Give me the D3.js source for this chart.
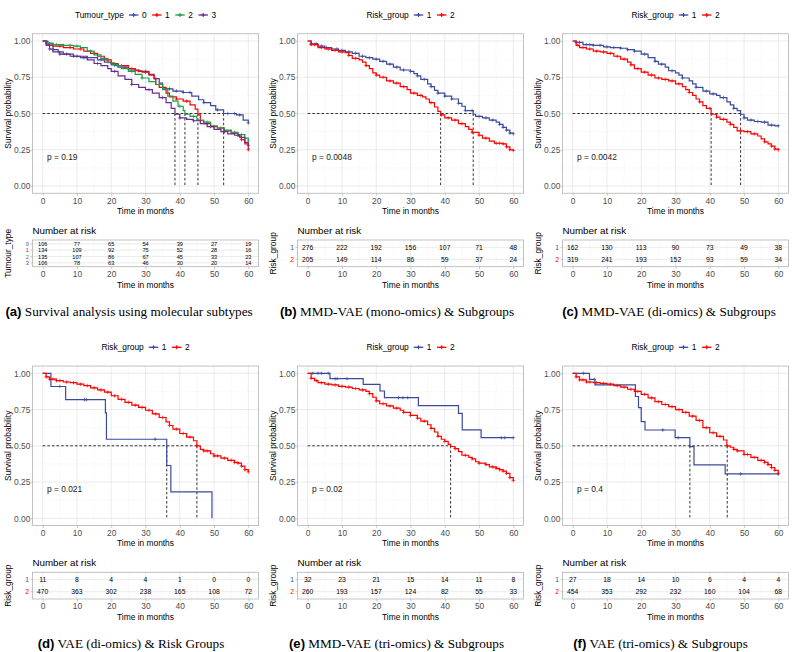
<!DOCTYPE html>
<html><head><meta charset="utf-8">
<script src="https://cdn.jsdelivr.net/npm/d3@7"></script>
<style>body{margin:0;background:#fff}svg{display:block}text{font-family:"Liberation Sans",Arial,sans-serif}</style>
</head><body><svg id="c" width="794" height="652"></svg>
<script>
// ---------- DATA ----------
const months = [0,10,20,30,40,50,60];
const survTicks = [0,0.25,0.5,0.75,1];

// (a) Tumour_type
const a_groups = ["0","1","2","3"];
const a0_t = [0,1.5,3,4.5,6,9,13,16,18,20,22,25,28,31,32.5,34,35,38,41,43.5,45.5,47,49,50.5,52.8,56.5,58.5,60];
const a0_s = [1.0,0.97,0.94,0.925,0.91,0.895,0.885,0.87,0.855,0.835,0.82,0.80,0.79,0.765,0.74,0.71,0.67,0.655,0.645,0.62,0.595,0.575,0.555,0.525,0.50,0.49,0.455,0.435];
const a0_cens = [3,7,10,13,17,21,24,27,30,33,37,39,41,43,47,51,54,56,57.5,60];
const a1_t = [0,1,3,6,9,12,14,16,18,20,22,25,27,29,31,32.5,33,34,36,37,39,41,43,44.5,45.3,46,47,49,51,53,55,57,58,59,60];
const a1_s = [1.0,0.98,0.965,0.955,0.945,0.93,0.915,0.895,0.87,0.845,0.83,0.81,0.795,0.785,0.77,0.74,0.70,0.68,0.64,0.615,0.60,0.585,0.56,0.53,0.49,0.45,0.43,0.41,0.40,0.38,0.365,0.345,0.32,0.29,0.25];
const a1_cens = [2,5,8,11,15,19,23,26,28,30,35,39,42,48,50,53,56,58,60];
const a2_t = [0,1,3,6,9,11,13,15,17,19,21,23,25,27,29,31,33,35,36.5,38,39.5,41,41.5,43,45,47,49,51,53,55,57,59,60];
const a2_s = [1.0,0.985,0.975,0.97,0.965,0.955,0.93,0.905,0.88,0.85,0.83,0.81,0.79,0.77,0.745,0.72,0.70,0.665,0.62,0.585,0.55,0.52,0.495,0.48,0.455,0.44,0.415,0.40,0.385,0.37,0.355,0.33,0.31];
const a2_cens = [1.5,4,6,8,10,14,18,22,26,29,34,40,44,48,52,56,58,60];
const a3_t = [0,1,2,3,5,8,11,13,15,17,19,20,22,24,26,28,30,32,34,36,37.5,38.6,40,42,44,46,48,50,52,54,56,57.5,59,60];
const a3_s = [1.0,0.97,0.945,0.925,0.91,0.895,0.885,0.87,0.845,0.83,0.81,0.79,0.76,0.735,0.70,0.68,0.665,0.64,0.61,0.575,0.535,0.495,0.47,0.46,0.45,0.43,0.41,0.39,0.375,0.36,0.35,0.335,0.30,0.28];
const a3_cens = [2,5,9,12,16,21,26,31,35,40,44,49,53,57,60];
const a_risk0 = [106,77,65,54,39,27,19];
const a_risk1 = [134,109,92,75,52,28,16];
const a_risk2 = [135,107,86,67,45,33,23];
const a_risk3 = [106,78,63,46,30,20,14];
const a_medians = [38.6,41.5,45.3,52.8];
const a_pval = "p = 0.19";

// (b) MMD-VAE mono-omics
const rg_groups = ["1","2"];
const b1_t = [0,1,3,5,7,9,11,13,15,17,19,21,23,25,27,30,31,32,33,35,36,37,38,40,42,44,45,46,48.3,49,51,53,55,56,57,58,59,60];
const b1_s = [1.0,0.98,0.965,0.955,0.945,0.935,0.925,0.915,0.895,0.885,0.875,0.86,0.84,0.82,0.80,0.79,0.775,0.76,0.735,0.705,0.685,0.66,0.64,0.62,0.60,0.57,0.55,0.52,0.495,0.48,0.47,0.455,0.44,0.425,0.405,0.385,0.365,0.36];
const b1_cens = [1,2.5,4,5.5,7,8.5,10,12,14,16,18,20,22,24,26,28,30,32,34,36,38,40,42,44,46,48,50,52,54,56,57,58,59,60];
const b2_t = [0,1,3,5,7,9,11,12,13,15,16,17,18,19,20,21,23,25,27,29,30,32,33.5,34.5,35.5,37,38,38.8,40,42,44,46,47,48,50,51,53,54.5,57,58,59,60];
const b2_s = [1.0,0.975,0.955,0.945,0.935,0.925,0.92,0.90,0.88,0.87,0.855,0.83,0.81,0.78,0.765,0.75,0.725,0.71,0.685,0.665,0.64,0.625,0.615,0.60,0.575,0.545,0.515,0.49,0.47,0.455,0.43,0.41,0.39,0.37,0.35,0.33,0.31,0.295,0.29,0.27,0.25,0.245];
const b2_cens = [1,2,4,6,8,10,12,14,17,20,22,24,26,28,31,33,36,39,41,43,45,48,50,52,55,56,57,58,59,60];
const b_risk1 = [276,222,192,156,107,71,48];
const b_risk2 = [205,149,114,86,59,37,24];
const b_medians = [38.8,48.3];
const b_pval = "p = 0.0048";

// (c) MMD-VAE di-omics
const c1_t = [0,1,3,6,9,11,14,16,18,20,22,24,25,27,28,30,31,32,34,35,36,38,40,42,43,45,46,47,48,49,50,51,53,55,57,59,60];
const c1_s = [1.0,0.99,0.975,0.97,0.96,0.955,0.95,0.94,0.93,0.91,0.885,0.86,0.84,0.82,0.795,0.78,0.765,0.745,0.725,0.705,0.68,0.655,0.635,0.625,0.61,0.58,0.56,0.535,0.52,0.495,0.47,0.455,0.445,0.44,0.42,0.415,0.415];
const c1_cens = [1,2,4,5,6,8,10,12,14,16,18,21,24,26,29,32,36,39,41,44,47,50,52,54,56,58,60];
const c2_t = [0,1,2,4,6,8,10,12,14,16,17,18,20,22,24,26,28,30,32,33,34,35,36,37,38,39,40.4,42,43,45,46,47,48,50,52,54,55,56,57,58,59,60];
const c2_s = [1.0,0.97,0.955,0.945,0.93,0.925,0.915,0.895,0.875,0.855,0.835,0.81,0.785,0.765,0.745,0.735,0.725,0.705,0.685,0.665,0.645,0.625,0.60,0.58,0.555,0.535,0.495,0.475,0.46,0.44,0.425,0.405,0.38,0.375,0.36,0.345,0.325,0.305,0.29,0.275,0.255,0.25];
const c2_cens = [1.5,3,5,7,9,11,13,15,17,19,21,23,25,27,29,31,34,37,40,42,44,46,49,51,53,56,58,59,60];
const c_risk1 = [162,130,113,90,73,49,38];
const c_risk2 = [319,241,193,152,93,59,34];
const c_medians = [40.4,49.0];
const c_pval = "p = 0.0042";

// (d) VAE di-omics
const d1_t = [0,2.4,6.7,18.3,18.6,36.2,37.4,49.4];
const d1_s = [1.0,0.909,0.818,0.727,0.545,0.364,0.182,0];
const d1_cens = [5,12.2,12.8,32.8];
const d2_t = [0,1,2,4,6,8,10,12,14,16,18,20,22,24,26,28,30,32,34,36,37,38,40,42,44,45,46,47,49,50,52,54,56,57,58,59,60];
const d2_s = [1.0,0.975,0.96,0.95,0.94,0.935,0.925,0.915,0.90,0.885,0.87,0.845,0.82,0.80,0.78,0.765,0.745,0.72,0.695,0.665,0.64,0.615,0.585,0.56,0.535,0.50,0.475,0.465,0.445,0.43,0.415,0.40,0.385,0.38,0.36,0.335,0.32];
const d2_cens = [1,2,3,4,5,7,9,11,13,15,17,19,21,23,25,27,29,31,33,35,37,39,41,43,45,47,48,50,51,53,55,56,57,58,59,60];
const d_risk1 = [11,8,4,4,1,0,0];
const d_risk2 = [470,363,302,238,165,108,72];
const d_medians = [36.2,45.0];
const d_pval = "p = 0.021";

// (e) MMD-VAE tri-omics
const e1_t = [0,6.5,16.2,21.1,22.4,32.3,44.0,45.1,50.6,60];
const e1_s = [1.0,0.963,0.924,0.878,0.832,0.777,0.724,0.61,0.556,0.556];
const e1_cens = [1.5,3,4,6,8,8.6,11.5,26.5,27.8,29.2,56.5,57.5,60];
const e2_t = [0,1,2,3,5,7,9,11,13,15,17,18,19,20,21,23,25,27,28,30,32,33,35,36,37,38,39,40,41,41.7,43,44,45,47,48,49,50,52,53,55,56,57,58,59,60];
const e2_s = [1.0,0.965,0.95,0.935,0.925,0.92,0.91,0.905,0.895,0.885,0.875,0.86,0.835,0.81,0.79,0.775,0.76,0.745,0.73,0.71,0.69,0.67,0.645,0.62,0.595,0.565,0.545,0.53,0.51,0.495,0.48,0.46,0.435,0.42,0.41,0.39,0.38,0.37,0.355,0.345,0.335,0.325,0.31,0.28,0.26];
const e2_cens = [1,2.5,4,6,8,10,12,14,16,18,20,22,24,26,28,30,32,34,36,38,40,43,46,48,50,52,54,55,56,57,58,59,60];
const e_risk1 = [32,23,21,15,14,11,8];
const e_risk2 = [260,193,157,124,82,55,33];
const e_medians = [41.7];
const e_pval = "p = 0.02";

// (f) VAE tri-omics
const f1_t = [0,4.9,6.5,18.3,19.2,20.0,21.1,29.9,34.2,35.4,44.5,60];
const f1_s = [1.0,0.958,0.92,0.84,0.763,0.667,0.609,0.556,0.494,0.368,0.306,0.306];
const f1_cens = [3.1,6.3,26.3,30.8,49,60];
const f2_t = [0,1,2,4,6,8,10,12,14,16,18,20,22,24,26,28,30,32,34,36,38,40,42,44,45,46,47,48,50,52,54,56,57,58,59,60];
const f2_s = [1.0,0.975,0.955,0.94,0.935,0.93,0.925,0.915,0.905,0.89,0.875,0.855,0.83,0.805,0.785,0.77,0.75,0.73,0.705,0.675,0.625,0.59,0.565,0.54,0.50,0.49,0.475,0.465,0.44,0.42,0.40,0.385,0.37,0.35,0.33,0.31];
const f2_cens = [1,2,3,4,5,7,9,11,13,15,17,19,21,23,25,27,29,31,33,35,37,39,41,43,45,47,48,50,51,53,55,56,57,58,59,60];
const f_risk1 = [27,18,14,10,6,4,4];
const f_risk2 = [454,353,292,232,160,104,68];
const f_medians = [34.2,45.1];
const f_pval = "p = 0.4";

// ---------- STYLE ----------
const BLUE="#3a4a9e", RED="#ff0000", GREEN="#1f9a4a", PURPLE="#6a2c8e";
const FS = 8.4;
const svg = d3.select("#c");

function stepVal(ts, ss, t){ let v = ss[0]; for (let i=0;i<ts.length;i++){ if (ts[i] <= t) v = ss[i]; } return v; }

function plus(g, cx, cy, r, color, w){
  g.append("path").attr("d",`M${cx-r},${cy}H${cx+r}M${cx},${cy-r}V${cy+r}`)
   .attr("stroke",color).attr("stroke-width",w).attr("fill","none");
}

function drawPanel(P){
  const g = svg.append("g").attr("transform",`translate(${P.ox},${P.oy})`);
  const x = d3.scaleLinear().domain([0,60]).range([42.7,248.3]);
  const y = d3.scaleLinear().domain([0,1]).range([186,41]);
  const L = x(-3), R = x(63), T = y(1.05), B = y(-0.05);
  const cxPanel = (L+R)/2;

  // legend
  const lg = g.append("g");
  let cx = 0;
  const lt = lg.append("text").attr("x",0).attr("y",15+3).attr("font-size",FS).attr("fill","#000").text(P.legendTitle);
  cx += lt.node().getComputedTextLength() + 5;
  P.groups.forEach((name,i)=>{
    lg.append("line").attr("x1",cx).attr("x2",cx+9.5).attr("y1",15).attr("y2",15)
      .attr("stroke",P.colors[i]).attr("stroke-width",1.3);
    plus(lg, cx+4.75, 15, 2, P.colors[i], 1.1);
    cx += 13;
    const t = lg.append("text").attr("x",cx).attr("y",15+3).attr("font-size",FS).attr("fill","#000").text(name);
    cx += t.node().getComputedTextLength() + 5.5;
  });
  cx -= 5.5;
  lg.attr("transform",`translate(${cxPanel - cx/2},0)`);

  // grid
  const minorX = [5,15,25,35,45,55], minorY = [0.125,0.375,0.625,0.875];
  g.append("g").selectAll("line").data(minorX).join("line")
    .attr("x1",d=>x(d)).attr("x2",d=>x(d)).attr("y1",T).attr("y2",B).attr("stroke","#f2f2f2").attr("stroke-width",0.5);
  g.append("g").selectAll("line").data(minorY).join("line")
    .attr("y1",d=>y(d)).attr("y2",d=>y(d)).attr("x1",L).attr("x2",R).attr("stroke","#f2f2f2").attr("stroke-width",0.5);
  g.append("g").selectAll("line").data(months).join("line")
    .attr("x1",d=>x(d)).attr("x2",d=>x(d)).attr("y1",T).attr("y2",B).attr("stroke","#e3e3e3").attr("stroke-width",0.7);
  g.append("g").selectAll("line").data(survTicks).join("line")
    .attr("y1",d=>y(d)).attr("y2",d=>y(d)).attr("x1",L).attr("x2",R).attr("stroke","#e3e3e3").attr("stroke-width",0.7);

  // axes
  const xa = g.append("g").attr("transform",`translate(0,${B})`)
    .call(d3.axisBottom(x).tickValues(months).tickSize(2.5).tickPadding(2));
  const ya = g.append("g").attr("transform",`translate(${L},0)`)
    .call(d3.axisLeft(y).tickValues(survTicks).tickFormat(d3.format(".2f")).tickSize(1.5).tickPadding(0.6));
  [xa,ya].forEach(a=>{
    a.select(".domain").remove();
    a.selectAll(".tick line").attr("stroke","#b3b3b3").attr("stroke-width",0.7);
    a.selectAll(".tick text").attr("fill","#4d4d4d").attr("font-size",FS).attr("font-family","Liberation Sans, Arial, sans-serif");
  });
  g.append("text").attr("x",cxPanel).attr("y",214).attr("text-anchor","middle").attr("font-size",FS).text("Time in months");
  g.append("text").attr("transform",`translate(11.2,${(T+B)/2}) rotate(-90)`).attr("text-anchor","middle").attr("font-size",FS).text("Survival probability");

  // medians (dashed)
  const mmax = d3.max(P.medians);
  g.append("line").attr("x1",x(0)).attr("x2",x(mmax)).attr("y1",y(0.5)).attr("y2",y(0.5))
    .attr("stroke","#000").attr("stroke-width",0.8).attr("stroke-dasharray","2.6,2");
  g.append("g").selectAll("line").data(P.medians).join("line")
    .attr("x1",d=>x(d)).attr("x2",d=>x(d)).attr("y1",y(0.5)).attr("y2",y(0))
    .attr("stroke","#000").attr("stroke-width",0.8).attr("stroke-dasharray","2.6,2");

  // curves
  const line = d3.line().x(d=>x(d[0])).y(d=>y(d[1])).curve(d3.curveStepAfter);
  P.curves.forEach((c,i)=>{
    const pts = c.t.map((t,k)=>[t,c.s[k]]);
    g.append("path").attr("d",line(pts)).attr("fill","none").attr("stroke",P.colors[i]).attr("stroke-width",1.2);
    const cg = g.append("g");
    c.cens.forEach(t=> plus(cg, x(t), y(stepVal(c.t,c.s,t)), 1.8, P.colors[i], 0.7));
  });

  // p value
  g.append("text").attr("x",47).attr("y",y(0.2)+3).attr("font-size",FS).attr("fill","#222").text(P.pval);

  // panel border
  g.append("rect").attr("x",L).attr("y",T).attr("width",R-L).attr("height",B-T)
    .attr("fill","none").attr("stroke","#b3b3b3").attr("stroke-width",0.8);

  // ---- risk table ----
  g.append("text").attr("x",L).attr("y",233.5).attr("font-size",9.8).attr("fill","#000").text("Number at risk");
  const tTop = 240, tBot = 266.7, n = P.risk.length;
  const ty = i => tTop + (0.6+i)*(tBot-tTop)/(n+0.2);
  g.append("g").selectAll("line").data(minorX).join("line")
    .attr("x1",d=>x(d)).attr("x2",d=>x(d)).attr("y1",tTop).attr("y2",tBot).attr("stroke","#f2f2f2").attr("stroke-width",0.5);
  g.append("g").selectAll("line").data(months).join("line")
    .attr("x1",d=>x(d)).attr("x2",d=>x(d)).attr("y1",tTop).attr("y2",tBot).attr("stroke","#e3e3e3").attr("stroke-width",0.7);
  g.append("g").selectAll("line").data(P.risk).join("line")
    .attr("y1",(d,i)=>ty(i)).attr("y2",(d,i)=>ty(i)).attr("x1",L).attr("x2",R).attr("stroke","#e3e3e3").attr("stroke-width",0.7);
  g.append("rect").attr("x",L).attr("y",tTop).attr("width",R-L).attr("height",tBot-tTop)
    .attr("fill","none").attr("stroke","#b3b3b3").attr("stroke-width",0.8);
  const tfs = n > 2 ? 5.6 : 6.8;
  P.risk.forEach((row,i)=>{
    g.append("g").selectAll("text").data(row).join("text")
      .attr("x",(d,k)=>x(months[k])).attr("y",ty(i)+tfs*0.36).attr("text-anchor","middle")
      .attr("font-size",tfs).attr("fill","#000").text(d=>d);
    g.append("line").attr("x1",L-2).attr("x2",L).attr("y1",ty(i)).attr("y2",ty(i)).attr("stroke","#b3b3b3").attr("stroke-width",0.7);
    g.append("text").attr("x",L-3.5).attr("y",ty(i)+tfs*0.36).attr("text-anchor","end")
      .attr("font-size",tfs).attr("fill",P.colors[i]).text(P.groups[i]);
  });
  const txa = g.append("g").attr("transform",`translate(0,${tBot})`)
    .call(d3.axisBottom(x).tickValues(months).tickSize(2.5).tickPadding(2));
  txa.select(".domain").remove();
  txa.selectAll(".tick line").attr("stroke","#b3b3b3").attr("stroke-width",0.7);
  txa.selectAll(".tick text").attr("fill","#4d4d4d").attr("font-size",FS).attr("font-family","Liberation Sans, Arial, sans-serif");
  g.append("text").attr("x",cxPanel).attr("y",287.5).attr("text-anchor","middle").attr("font-size",FS).text("Time in months");
  g.append("text").attr("transform",`translate(11,${(tTop+tBot)/2}) rotate(-90)`).attr("text-anchor","middle").attr("font-size",FS).text(P.legendTitle);
}

function caption(cx, by, tag, rest){
  const t = svg.append("text").attr("x",cx).attr("y",by).attr("text-anchor","middle").attr("font-size",13.2).attr("fill","#000");
  t.append("tspan").attr("font-family","Liberation Sans, Arial, sans-serif").attr("font-weight","bold").text(tag);
  t.append("tspan").attr("font-family","Liberation Serif, Times New Roman, serif").text(" " + rest);
}

const OY2 = 332.3;
drawPanel({ox:0, oy:0, legendTitle:"Tumour_type", groups:a_groups, colors:[BLUE,RED,GREEN,PURPLE],
  curves:[{t:a0_t,s:a0_s,cens:a0_cens},{t:a1_t,s:a1_s,cens:a1_cens},{t:a2_t,s:a2_s,cens:a2_cens},{t:a3_t,s:a3_s,cens:a3_cens}],
  medians:a_medians, pval:a_pval, risk:[a_risk0,a_risk1,a_risk2,a_risk3]});
drawPanel({ox:265, oy:0, legendTitle:"Risk_group", groups:rg_groups, colors:[BLUE,RED],
  curves:[{t:b1_t,s:b1_s,cens:b1_cens},{t:b2_t,s:b2_s,cens:b2_cens}],
  medians:b_medians, pval:b_pval, risk:[b_risk1,b_risk2]});
drawPanel({ox:530, oy:0, legendTitle:"Risk_group", groups:rg_groups, colors:[BLUE,RED],
  curves:[{t:c1_t,s:c1_s,cens:c1_cens},{t:c2_t,s:c2_s,cens:c2_cens}],
  medians:c_medians, pval:c_pval, risk:[c_risk1,c_risk2]});
drawPanel({ox:0, oy:OY2, legendTitle:"Risk_group", groups:rg_groups, colors:[BLUE,RED],
  curves:[{t:d1_t,s:d1_s,cens:d1_cens},{t:d2_t,s:d2_s,cens:d2_cens}],
  medians:d_medians, pval:d_pval, risk:[d_risk1,d_risk2]});
drawPanel({ox:265, oy:OY2, legendTitle:"Risk_group", groups:rg_groups, colors:[BLUE,RED],
  curves:[{t:e1_t,s:e1_s,cens:e1_cens},{t:e2_t,s:e2_s,cens:e2_cens}],
  medians:e_medians, pval:e_pval, risk:[e_risk1,e_risk2]});
drawPanel({ox:530, oy:OY2, legendTitle:"Risk_group", groups:rg_groups, colors:[BLUE,RED],
  curves:[{t:f1_t,s:f1_s,cens:f1_cens},{t:f2_t,s:f2_s,cens:f2_cens}],
  medians:f_medians, pval:f_pval, risk:[f_risk1,f_risk2]});

caption(129, 316, "(a)", "Survival analysis using molecular subtypes");
caption(397, 316, "(b)", "MMD-VAE (mono-omics) & Subgroups");
caption(669, 316, "(c)", "MMD-VAE (di-omics) & Subgroups");
caption(131, 648, "(d)", "VAE (di-omics) & Risk Groups");
caption(396.5, 648, "(e)", "MMD-VAE (tri-omics) & Subgroups");
caption(660.5, 648, "(f)", "VAE (tri-omics) & Subgroups");
</script>
</body></html>
